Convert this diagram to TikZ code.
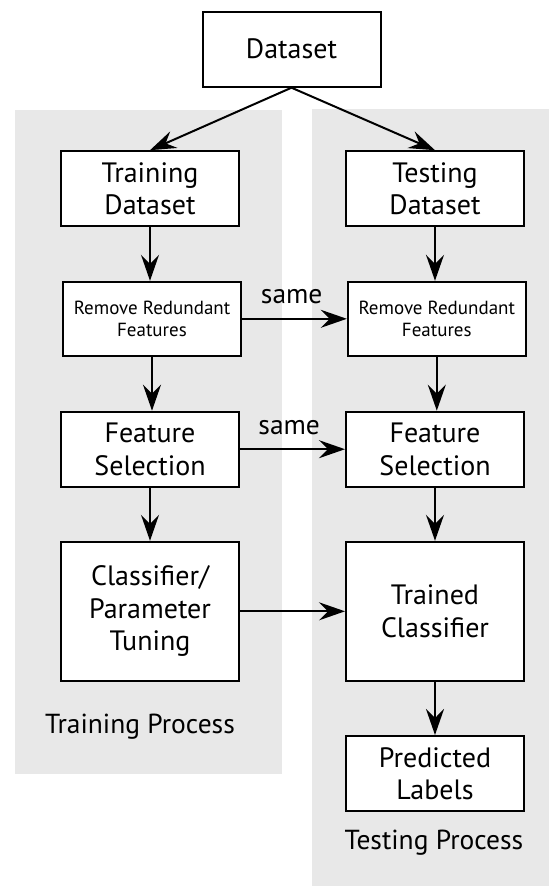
\documentclass[tikz,border=0pt]{standalone}
\usepackage{fontspec}
\setmainfont{PT Sans}
\usetikzlibrary{arrows.meta}
\definecolor{panelgray}{RGB}{232,232,232}
\tikzset{
  stepbox/.style={draw=black, line width=2pt, fill=white, align=center,
    minimum width=178pt, inner sep=0pt, text=black,
    font=\fontsize{28}{32.5}\selectfont},
  smallbox/.style={stepbox, font=\fontsize{19}{22}\selectfont},
  flow/.style={line width=2pt, -{Stealth[length=26pt, width=18pt, inset=9pt]}},
  tag/.style={inner sep=0pt, text=black, font=\fontsize{27.5}{31}\selectfont},
  panel/.style={fill=panelgray, draw=none}
}
\begin{document}
\begin{tikzpicture}[x=1pt, y=-1pt]
  \useasboundingbox (0,0) rectangle (549,886);
  % background panels for the two processes
  \fill[panel] (14.7,110) rectangle (282,774);
  \fill[panel] (311.6,108.7) rectangle (549,886);

  % nodes
  \node[stepbox, minimum height=75pt] (ds) at (291.5,49.2) {Dataset};
  \node[stepbox, minimum height=75pt] (trd) at (150,188.7) {Training\\Dataset};
  \node[stepbox, minimum height=75pt] (ted) at (435,188.7) {Testing\\Dataset};
  \node[smallbox, minimum height=74pt] (trr) at (152,318.8) {Remove Redundant\\Features};
  \node[smallbox, minimum height=74pt] (ter) at (436.8,318.8) {Remove Redundant\\Features};
  \node[stepbox, minimum height=75pt] (trf) at (150,449.2) {Feature\\Selection};
  \node[stepbox, minimum height=75pt] (tef) at (435,449.2) {Feature\\Selection};
  \node[stepbox, minimum height=139pt] (trc) at (150,611.3) {Classifier/\\Parameter\\Tuning};
  \node[stepbox, minimum height=139pt] (tec) at (435,611.3) {Trained\\Classifier};
  \node[stepbox, minimum height=75pt] (pl) at (435,773.5) {Predicted\\Labels};

  % labels
  \node[tag] (same1) at (291.7,296.7) {same};
  \node[tag] (same2) at (289.2,427.3) {same};
  \node[tag] (trp) at (140,727) {Training Process};
  \node[tag] (tep) at (434,843) {Testing Process};

  % connectors
  \draw[flow] (ds.south) -- (trd.north);
  \draw[flow] (ds.south) -- (ted.north);
  \draw[flow] (trd.south) -- (trd.south |- trr.north);
  \draw[flow] (ted.south) -- (ted.south |- ter.north);
  \draw[flow] (trr.east) -- (ter.west);
  \draw[flow] (trr.south) -- (trr.south |- trf.north);
  \draw[flow] (ter.south) -- (ter.south |- tef.north);
  \draw[flow] (trf.east) -- (tef.west);
  \draw[flow] (trf.south) -- (trc.north);
  \draw[flow] (tef.south) -- (tec.north);
  \draw[flow] (trc.east) -- (tec.west);
  \draw[flow] (tec.south) -- (pl.north);
\end{tikzpicture}
\end{document}
